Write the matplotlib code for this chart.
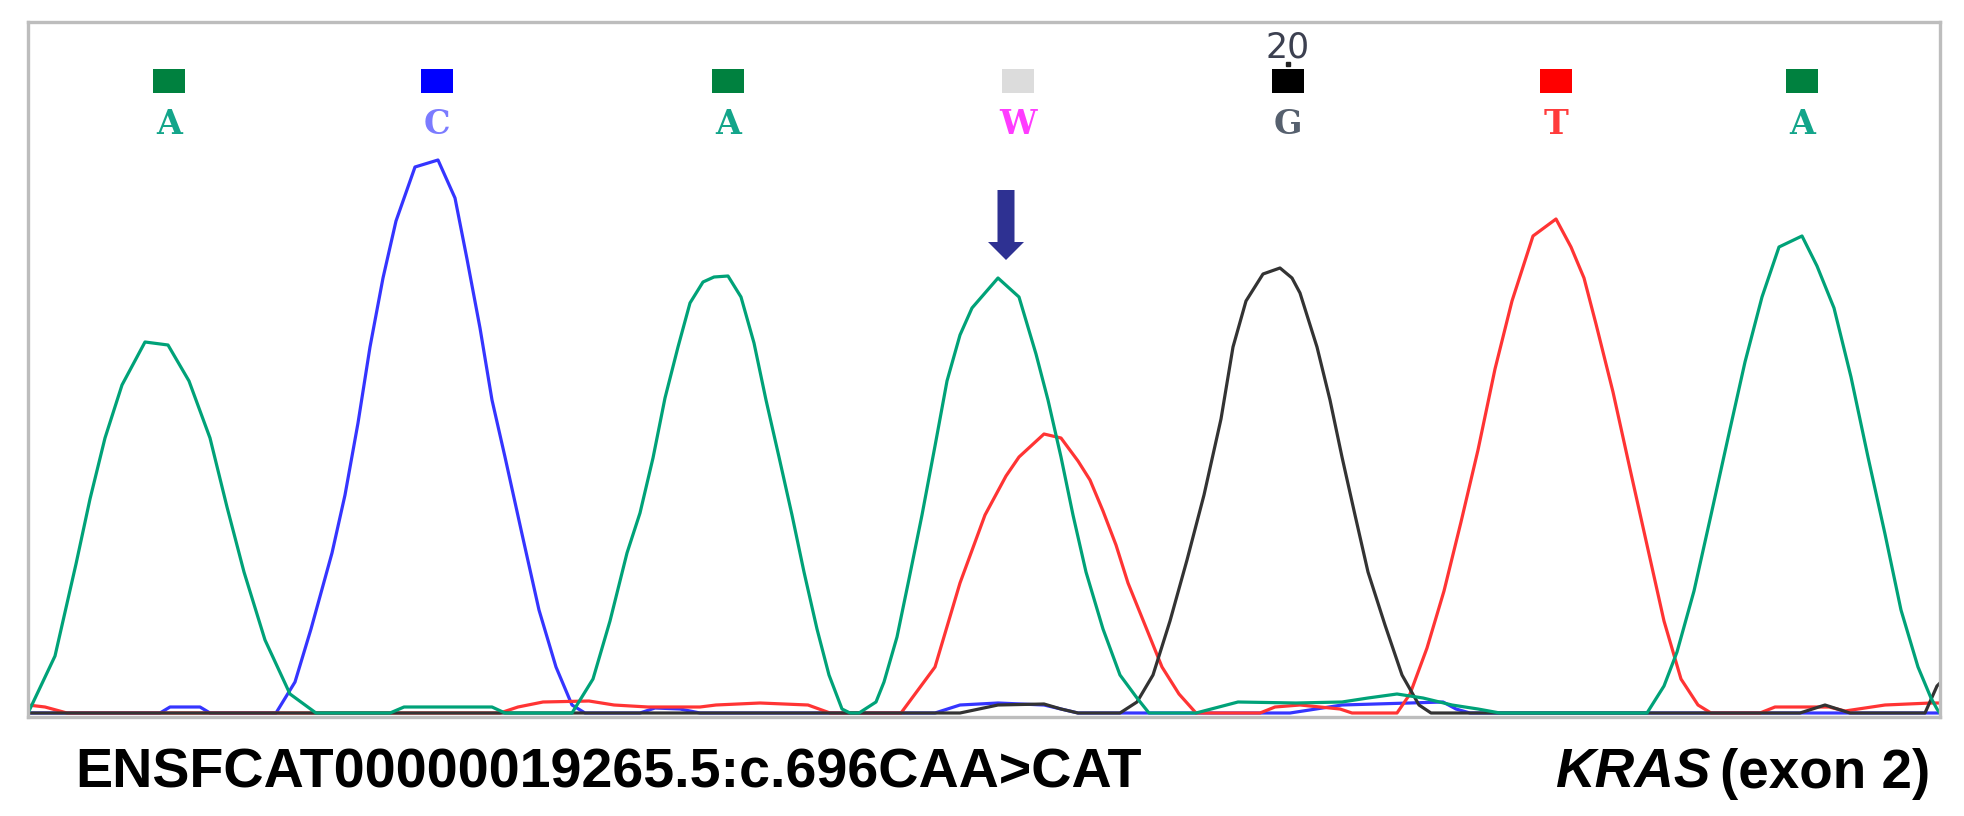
"""Sanger chromatogram of KRAS exon 2 with the W (A/T) call marked by an arrow."""
import matplotlib
matplotlib.use("Agg")
import matplotlib.pyplot as plt
from matplotlib.patches import Rectangle, FancyArrow
import matplotlib.transforms as mtransforms

# base calls: scan position, letter
CALL_SCAN = [169, 437, 728, 1018, 1288, 1556, 1802]
CALL_BASE = ["A", "C", "A", "W", "G", "T", "A"]
POS_LABEL = "20"           # position label over the 5th call
POS_LABEL_IDX = 4
MUT_SCAN = 1006            # arrow over the heterozygous site

# traces: (scan, signal)
GREEN = [(28, 0), (29, 2), (55, 57), (76, 149), (90, 214), (105, 275), (122, 328), (145, 371),
         (168, 368), (189, 332), (210, 275), (227, 206), (244, 141), (265, 73), (290, 19),
         (316, 0), (390, 0), (404, 6), (492, 6), (505, 0), (572, 0), (593, 34), (610, 92),
         (627, 160), (640, 200), (653, 255), (665, 315), (678, 366), (690, 410), (703, 431),
         (714, 436), (728, 437), (741, 416), (754, 370), (766, 313), (779, 256), (792, 198),
         (804, 141), (817, 84), (829, 38), (842, 4), (850, 0), (859, 0), (876, 11), (884, 31),
         (897, 76), (909, 134), (922, 198), (935, 267), (947, 332), (960, 378), (972, 405),
         (998, 435), (1019, 416), (1036, 359), (1048, 313), (1061, 256), (1073, 198),
         (1086, 141), (1103, 84), (1120, 38), (1137, 15), (1149, 0), (1196, 0), (1238, 11),
         (1296, 10), (1342, 11), (1368, 15), (1397, 19), (1423, 15), (1452, 8), (1478, 4),
         (1500, 0), (1647, 0), (1664, 27), (1677, 61), (1694, 122), (1711, 198), (1728, 275),
         (1745, 351), (1762, 416), (1779, 466), (1802, 477), (1817, 447), (1834, 405),
         (1851, 336), (1868, 256), (1885, 179), (1901, 103), (1918, 46), (1931, 15),
         (1937, 4), (1940, 0)]
BLUE = [(28, 0), (160, 0), (170, 6), (200, 6), (210, 0), (276, 0), (295, 31), (311, 84),
        (332, 160), (345, 218), (358, 290), (370, 366), (383, 435), (396, 492), (415, 546),
        (438, 553), (455, 515), (467, 454), (480, 385), (492, 313), (505, 256), (522, 179),
        (539, 103), (556, 46), (572, 8), (585, 0), (640, 0), (655, 5), (680, 4), (700, 0),
        (935, 0), (960, 8), (998, 10), (1044, 8), (1061, 4), (1078, 0), (1290, 0), (1342, 8),
        (1443, 11), (1456, 4), (1470, 0), (1940, 0)]
RED = [(28, 8), (45, 6), (67, 0), (500, 0), (518, 6), (543, 11), (589, 12), (614, 8), (648, 6),
       (700, 6), (716, 8), (760, 10), (808, 8), (830, 0), (901, 0), (935, 46), (960, 130),
       (985, 198), (1006, 237), (1019, 256), (1044, 279), (1061, 275), (1078, 252), (1090, 233),
       (1103, 202), (1116, 168), (1128, 130), (1145, 88), (1162, 46), (1179, 19), (1196, 0),
       (1260, 0), (1275, 6), (1300, 8), (1340, 4), (1352, 0), (1397, 0), (1410, 19), (1427, 65),
       (1444, 122), (1461, 191), (1478, 263), (1495, 344), (1512, 412), (1533, 477),
       (1556, 494), (1571, 466), (1584, 435), (1596, 389), (1613, 321), (1630, 244),
       (1647, 168), (1664, 92), (1681, 34), (1698, 8), (1711, 0), (1760, 0), (1775, 6),
       (1829, 6), (1845, 2), (1885, 8), (1931, 10), (1940, 10)]
BLACK = [(28, 0), (960, 0), (998, 8), (1044, 9), (1061, 4), (1078, 0), (1120, 0), (1137, 11),
         (1153, 38), (1170, 92), (1187, 153), (1204, 218), (1221, 294), (1233, 366),
         (1246, 412), (1263, 439), (1280, 445), (1292, 435), (1300, 420), (1317, 366),
         (1330, 313), (1342, 256), (1355, 198), (1368, 141), (1385, 88), (1402, 38),
         (1419, 8), (1431, 0), (1800, 0), (1825, 8), (1850, 0), (1925, 0), (1937, 27),
         (1940, 30)]

TRACE_COL = {"blue": "#3535ff", "red": "#ff3434", "black": "#333333", "green": "#00a278"}
SQ_COL = {"A": "#00813f", "C": "#0000ff", "W": "#dcdcdc", "G": "#000000", "T": "#ff0000"}
TXT_COL = {"A": "#13a58a", "C": "#7b7bff", "W": "#ff3cff", "G": "#56606e", "T": "#ff3b3b"}

W, H = 1964, 816


def main():
    fig = plt.figure(figsize=(W / 100, H / 100), dpi=100)
    ax = fig.add_axes([28 / W, 1 - 717 / H, (1940 - 28) / W, (717 - 22) / H])
    ax.set_xlim(28, 1940)
    ax.set_ylim(-4, 691)
    ax.set_xticks([]); ax.set_yticks([])
    for s in ax.spines.values():
        s.set_color("#bdbdbd"); s.set_linewidth(2.4)

    for name, tr in [("blue", BLUE), ("red", RED), ("black", BLACK), ("green", GREEN)]:
        xs, ys = zip(*tr)
        ax.plot(xs, ys, "-", color=TRACE_COL[name], lw=2.3, solid_joinstyle="round")

    # base calls along the top
    tb = mtransforms.blended_transform_factory(ax.transData, ax.transAxes)
    for x, b in zip(CALL_SCAN, CALL_BASE):
        ax.add_patch(Rectangle((x - 16, 0.898), 32, 0.034, transform=tb,
                               facecolor=SQ_COL[b], edgecolor="none"))
        ax.text(x, 0.853, b, transform=tb, ha="center", va="center", fontsize=24,
                fontweight="bold", family="DejaVu Serif", color=TXT_COL[b])
    xl = CALL_SCAN[POS_LABEL_IDX]
    ax.text(xl, 0.963, POS_LABEL, transform=tb, ha="center", va="center", fontsize=25,
            color="#3c4050")
    ax.plot([xl], [0.94], "s", ms=2.5, color="#222222", transform=tb)

    ax.add_patch(FancyArrow(MUT_SCAN, 523, 0, -70, width=17, head_width=36, head_length=18,
                            length_includes_head=True, color="#2e3192", lw=0))

    # caption line
    fam = ["Liberation Sans", "DejaVu Sans"]
    base_y = 1 - 788 / H
    fig.text(75 / W, base_y, "ENSFCAT00000019265.5:c.696CAA>CAT", ha="left", va="baseline",
             fontsize=40.1, fontweight="bold", family=fam)
    t2 = fig.text(1930 / W, base_y, "(exon 2)", ha="right", va="baseline",
                  fontsize=39.5, fontweight="bold", family=fam)
    fig.canvas.draw()
    bb = t2.get_window_extent()
    fig.text((bb.x0 - 9) / W, base_y, "KRAS", ha="right", va="baseline", fontsize=39.5,
             fontweight="bold", style="italic", family=fam)

    fig.savefig("out.png", dpi=100)


if __name__ == "__main__":
    main()
